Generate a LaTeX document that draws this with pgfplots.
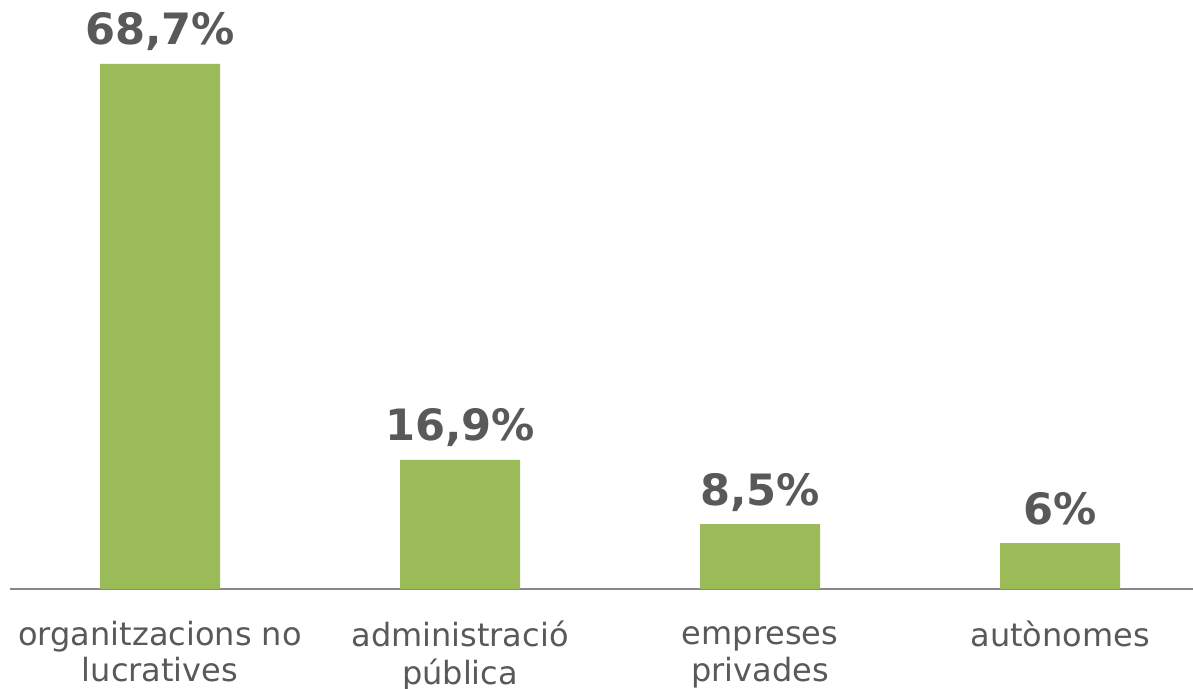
\documentclass[border=0pt]{standalone}
\usepackage{fontspec}
\setmainfont{DejaVu Sans}
\usepackage{pgfplots}
\pgfplotsset{compat=1.18}
\definecolor{barGreen}{HTML}{9BBB59}
\definecolor{txtGray}{HTML}{595959}
\definecolor{axGray}{HTML}{868686}

\begin{document}
\begin{tikzpicture}
  \begin{axis}[
    name=main,
    scale only axis,
    width=591.5pt, height=294.5pt,
    xmin=-0.5, xmax=3.443,
    ymin=0, ymax=77.07,
    axis y line=none,
    axis x line*=bottom,
    axis line style={axGray, line width=1pt, -},
    xtick=data,
    xtick style={draw=none},
    xticklabels={{\strut organitzacions no\\lucratives},{\strut administració\\pública},{\strut empreses\\privades},{\strut autònomes}},
    xticklabel style={align=center, text=txtGray, font=\fontsize{16}{17}\selectfont, anchor=north, inner sep=0pt, yshift=-11.6pt},
    ybar, bar width=60pt,
    point meta=explicit symbolic,
    nodes near coords,
    nodes near coords style={anchor=base, yshift=9.5pt, text=txtGray, font=\fontsize{21.6}{25}\selectfont\bfseries},
  ]
  \addplot[fill=barGreen, draw=none] coordinates {
    (0,68.7) [68,7\%]
    (1,16.9) [16,9\%]
    (2,8.5)  [8,5\%]
    (3,6)    [6\%]
  };
  \end{axis}
  \pgfresetboundingbox
  \useasboundingbox ([xshift=-5pt,yshift=-49.5pt]main.south west) rectangle (main.north east);
\end{tikzpicture}
\end{document}
